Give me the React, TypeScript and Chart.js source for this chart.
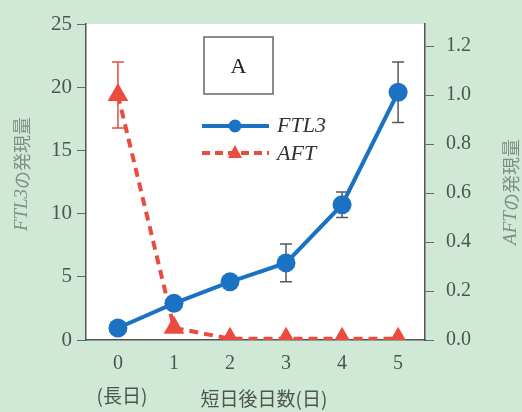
import React, { useEffect, useRef } from "react";
import { Chart, registerables } from "chart.js";

Chart.register(...registerables);

// days after transfer to short day (0 = long day)
const days = [0, 1, 2, 3, 4, 5];
const ftl3 = [0.95, 2.9, 4.6, 6.1, 10.7, 19.6];
const ftl3Err = [0, 0, 0, 1.5, 1.0, 2.4];
const aft = [1.0, 0.05, 0.005, 0.005, 0.005, 0.005];
const aftErr = [0.135, 0, 0, 0, 0, 0];
const leftTicks = [0, 5, 10, 15, 20, 25];
const rightTicks = [0, 0.2, 0.4, 0.6, 0.8, 1.0, 1.2];

const BLUE = "#1b72c2";
const RED = "#ec4b3f";
const BG = "#cfe9d6";
const TICK = "#4d554f";
const TITLE = "#7f8f86";
const SERIF = "'Liberation Serif', 'DejaVu Serif', 'Noto Sans CJK JP', serif";
const CJK = "'Noto Sans CJK JP', 'Liberation Serif', serif";

const decorPlugin = {
  id: "decor",
  beforeDatasetsDraw(chart: any) {
    const { ctx, scales } = chart;
    const x = scales.x;
    const yL = scales.y;
    const yR = scales.y1;
    ctx.save();
    // error bars
    const drawErr = (vals: number[], errs: number[], sc: any, color: string, w: number) => {
      ctx.strokeStyle = color;
      ctx.lineWidth = w;
      vals.forEach((v, i) => {
        const e = errs[i];
        if (!e) return;
        const px = x.getPixelForValue(days[i]);
        const t = sc.getPixelForValue(v + e);
        const b = sc.getPixelForValue(v - e);
        ctx.beginPath();
        ctx.moveTo(px, t);
        ctx.lineTo(px, b);
        ctx.moveTo(px - 6, t);
        ctx.lineTo(px + 6, t);
        ctx.moveTo(px - 6, b);
        ctx.lineTo(px + 6, b);
        ctx.stroke();
      });
    };
    drawErr(ftl3, ftl3Err, yL, "#555a57", 1.5);
    drawErr(aft, aftErr, yR, RED, 1.5);
    ctx.restore();
  },
  afterDraw(chart: any) {
    const { ctx } = chart;
    ctx.save();
    // panel label box
    ctx.strokeStyle = "#666";
    ctx.lineWidth = 1.5;
    ctx.strokeRect(204, 37, 69, 57);
    ctx.fillStyle = "#222";
    ctx.font = `22px ${SERIF}`;
    ctx.textAlign = "center";
    ctx.textBaseline = "middle";
    ctx.fillText("A", 238.5, 67);

    // legend
    ctx.lineWidth = 4;
    ctx.strokeStyle = BLUE;
    ctx.setLineDash([]);
    ctx.beginPath();
    ctx.moveTo(202, 126);
    ctx.lineTo(269, 126);
    ctx.stroke();
    ctx.fillStyle = BLUE;
    ctx.beginPath();
    ctx.arc(235, 126, 6.5, 0, Math.PI * 2);
    ctx.fill();
    ctx.strokeStyle = RED;
    ctx.setLineDash([8, 5]);
    ctx.beginPath();
    ctx.moveTo(202, 153);
    ctx.lineTo(269, 153);
    ctx.stroke();
    ctx.setLineDash([]);
    ctx.fillStyle = RED;
    ctx.beginPath();
    ctx.moveTo(235, 145);
    ctx.lineTo(242, 158);
    ctx.lineTo(228, 158);
    ctx.closePath();
    ctx.fill();
    ctx.fillStyle = "#333";
    ctx.font = `italic 22px ${SERIF}`;
    ctx.textAlign = "left";
    ctx.fillText("FTL3", 277, 126);
    ctx.fillText("AFT", 277, 154);

    // x axis titles
    ctx.fillStyle = TICK;
    ctx.font = `19px ${CJK}`;
    ctx.textAlign = "center";
    ctx.fillText("(長日)", 122, 396);
    ctx.fillText("短日後日数(日)", 264, 399);

    // y axis titles (mixed italic/upright), rotated
    const vTitle = (cx: number, cy: number, ital: string, rest: string) => {
      ctx.save();
      ctx.translate(cx, cy);
      ctx.rotate(-Math.PI / 2);
      ctx.fillStyle = TITLE;
      ctx.textBaseline = "middle";
      ctx.font = `italic 19px ${SERIF}`;
      const w1 = ctx.measureText(ital).width;
      ctx.font = `18px ${CJK}`;
      const w2 = ctx.measureText(rest).width;
      const start = -(w1 + w2) / 2;
      ctx.textAlign = "left";
      ctx.font = `italic 19px ${SERIF}`;
      ctx.fillText(ital, start, 0);
      ctx.font = `18px ${CJK}`;
      ctx.fillText(rest, start + w1, 0);
      ctx.restore();
    };
    vTitle(22, 174, "FTL3", "の発現量");
    vTitle(511, 192, "AFT", "の発現量");
    ctx.restore();
  },
};

const areaPlugin = {
  id: "area",
  beforeDraw(chart: any) {
    const { ctx, chartArea } = chart;
    ctx.save();
    ctx.fillStyle = BG;
    ctx.fillRect(0, 0, chart.width, chart.height);
    ctx.fillStyle = "#ffffff";
    ctx.fillRect(chartArea.left, chartArea.top, chartArea.right - chartArea.left, chartArea.bottom - chartArea.top);
    ctx.restore();
  },
};

export default function App() {
  const ref = useRef<HTMLCanvasElement>(null);
  useEffect(() => {
    document.body.style.margin = "0";
    document.body.style.background = BG;
    const chart = new Chart(ref.current!, {
      type: "line",
      data: {
        datasets: [
          {
            label: "FTL3",
            data: days.map((d, i) => ({ x: d, y: ftl3[i] })),
            yAxisID: "y",
            borderColor: BLUE,
            backgroundColor: BLUE,
            borderWidth: 4,
            pointStyle: "circle",
            pointRadius: 9.5,
            pointBorderWidth: 0,
          },
          {
            label: "AFT",
            data: days.map((d, i) => ({ x: d, y: aft[i] })),
            yAxisID: "y1",
            borderColor: RED,
            backgroundColor: RED,
            borderWidth: 4,
            borderDash: [9, 6],
            pointStyle: "triangle",
            pointRadius: 12,
            pointBorderWidth: 0,
          },
        ],
      },
      plugins: [areaPlugin, decorPlugin],
      options: {
        animation: false,
        responsive: false,
        layout: { padding: { top: 24, left: 0, right: 0, bottom: 0 } },
        plugins: { legend: { display: false }, tooltip: { enabled: false } },
        scales: {
          x: {
            type: "linear",
            min: -0.57,
            max: 5.48,
            afterBuildTicks: (s: any) => {
              s.ticks = days.map((v) => ({ value: v }));
            },
            afterFit: (s: any) => {
              s.height = 72;
            },
            grid: { display: false },
            border: { display: true, color: "#555", width: 1.5 },
            ticks: { color: TICK, font: { family: SERIF, size: 20 }, padding: 4, maxRotation: 0 },
          },
          y: {
            position: "left",
            min: 0,
            max: 25,
            afterBuildTicks: (s: any) => {
              s.ticks = leftTicks.map((v) => ({ value: v }));
            },
            afterFit: (s: any) => {
              s.width = 86;
            },
            grid: { display: true, drawOnChartArea: false, drawTicks: true, tickLength: 9, color: "#666" },
            border: { display: true, color: "#555", width: 1.5 },
            ticks: { color: TICK, font: { family: SERIF, size: 21 }, padding: 5 },
          },
          y1: {
            position: "right",
            min: 0,
            max: 1.29,
            afterBuildTicks: (s: any) => {
              s.ticks = rightTicks.map((v) => ({ value: v }));
            },
            afterFit: (s: any) => {
              s.width = 97;
            },
            grid: { display: true, drawOnChartArea: false, drawTicks: true, tickLength: 9, color: "#666" },
            border: { display: true, color: "#555", width: 1.5 },
            ticks: {
              color: TICK,
              font: { family: SERIF, size: 20 },
              padding: 12,
              callback: (v: any) => Number(v).toFixed(1),
            },
          },
        },
      },
    } as any);
    return () => chart.destroy();
  }, []);
  return (
    <div style={{ width: 522, height: 412, background: BG }}>
      <canvas ref={ref} width={522} height={412} style={{ display: "block" }} />
    </div>
  );
}
